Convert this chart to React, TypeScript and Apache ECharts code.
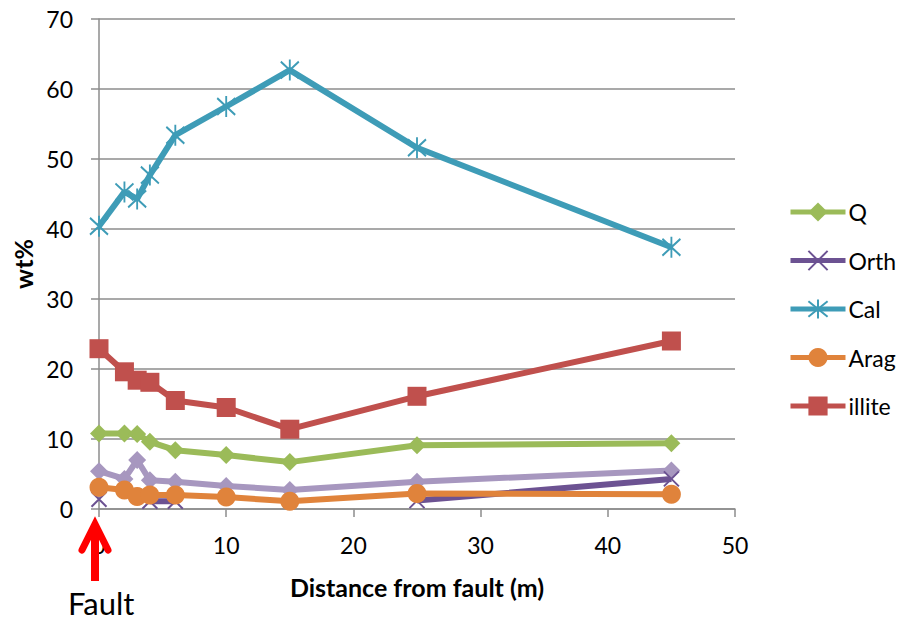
import React, { useEffect, useRef } from "react";
import * as echarts from "echarts";

// Distance from fault (m)
const distances = [0, 2, 3, 4, 6, 10, 15, 25, 45];

// wt% values
const qValues = [10.8, 10.8, 10.7, 9.6, 8.4, 7.7, 6.7, 9.1, 9.4];
const orthValues: (number | null)[] = [1.4, null, null, 1.1, 1.1, null, null, 1.2, 4.3];
const calValues = [40.4, 45.3, 44.3, 47.7, 53.4, 57.5, 62.7, 51.6, 37.4];
const aragValues = [3.1, 2.7, 1.8, 2.0, 2.0, 1.7, 1.1, 2.2, 2.1];
const illiteValues = [22.9, 19.6, 18.4, 18.1, 15.5, 14.5, 11.4, 16.1, 24.0];
// unlabelled (not in legend) lavender series
const otherValues = [5.4, 4.3, 7.0, 4.1, 3.9, 3.3, 2.7, 3.9, 5.5];

const legendNames = ["Q", "Orth", "Cal", "Arag", "illite"];

const FONT = "Lato, 'Noto Sans', sans-serif";

const X_SYMBOL = "path://M0,0L16,16M16,0L0,16";
const ASTERISK_SYMBOL = "path://M1,2L17,18M17,2L1,18M9,0L9,20";

function pairs(vals: (number | null)[]) {
  return distances.map((d, i) => [d, vals[i]]);
}

export default function App() {
  const ref = useRef<HTMLDivElement>(null);

  useEffect(() => {
    if (!ref.current) return;
    const chart = echarts.init(ref.current, undefined, { renderer: "svg" });

    const base = (name: string, color: string, vals: (number | null)[], symbol: string, size: number | number[], extra: any = {}) => ({
      name,
      type: "line",
      data: pairs(vals),
      symbol,
      symbolSize: size,
      showSymbol: true,
      connectNulls: false,
      lineStyle: { color, width: 6 },
      itemStyle: { color, borderColor: color, borderWidth: 0, opacity: 1 },
      emphasis: { disabled: true },
      ...extra,
    });

    chart.setOption({
      animation: false,
      textStyle: { fontFamily: FONT },
      grid: { left: 99, right: 164, top: 19, bottom: 108, containLabel: false },
      legend: {
        data: legendNames,
        orient: "vertical",
        left: 788,
        top: 200,
        padding: 0,
        itemWidth: 55,
        itemHeight: 24,
        itemGap: 24.5,
        lineStyle: { width: 5 },
        textStyle: { fontFamily: FONT, fontSize: 23, color: "#000", lineHeight: 24, padding: [0, 0, 0, -2] },
        selectedMode: false,
      },
      xAxis: {
        type: "value",
        min: 0,
        max: 50,
        interval: 10,
        name: "Distance from fault (m)",
        nameLocation: "middle",
        nameGap: 65,
        nameTextStyle: { fontFamily: FONT, fontSize: 25, fontWeight: "bold", color: "#000" },
        axisLine: { show: true, lineStyle: { color: "#8C8C8C", width: 1.5 } },
        axisTick: { show: true, inside: false, length: 8, lineStyle: { color: "#8C8C8C", width: 1.5 } },
        axisLabel: { fontFamily: FONT, fontSize: 23, color: "#000", margin: 24 },
        splitLine: { show: false },
      },
      yAxis: {
        type: "value",
        min: 0,
        max: 70,
        interval: 10,
        name: "wt%",
        nameLocation: "middle",
        nameGap: 64,
        nameRotate: 90,
        nameTextStyle: { fontFamily: FONT, fontSize: 25, fontWeight: "bold", color: "#000" },
        axisLine: { show: true, lineStyle: { color: "#8C8C8C", width: 1.5 } },
        axisTick: { show: true, inside: false, length: 8, lineStyle: { color: "#8C8C8C", width: 1.5 } },
        axisLabel: { fontFamily: FONT, fontSize: 23, color: "#000", margin: 26 },
        splitLine: { show: true, lineStyle: { color: "#8C8C8C", width: 1.5 } },
      },
      series: [
        base("other", "#A797BF", otherValues, "diamond", [18, 18]),
        base("Q", "#9BBB59", qValues, "diamond", [18, 18]),
        base("Orth", "#6C5292", orthValues, X_SYMBOL, [15, 15], {
          itemStyle: { color: "#6C5292", borderColor: "#6C5292", borderWidth: 2 },
        }),
        base("Cal", "#3E9CB7", calValues, ASTERISK_SYMBOL, [18, 21], {
          itemStyle: { color: "#3E9CB7", borderColor: "#3E9CB7", borderWidth: 2 },
        }),
        base("Arag", "#E0833B", aragValues, "circle", 19),
        base("illite", "#C0504D", illiteValues, "rect", 19),
      ],
      graphic: [
        {
          type: "line",
          z: 100,
          shape: { x1: 95, y1: 581, x2: 95, y2: 526 },
          style: { stroke: "#FF0000", lineWidth: 8, lineCap: "butt" },
        },
        {
          type: "polyline",
          z: 100,
          shape: { points: [[82, 550], [95, 524], [108, 550]] },
          style: { stroke: "#FF0000", fill: "none", lineWidth: 7, lineCap: "round", lineJoin: "miter" },
        },
        {
          type: "text",
          z: 100,
          x: 68,
          y: 603,
          style: { text: "Fault", fontFamily: FONT, fontSize: 31, fill: "#000", align: "left", verticalAlign: "middle" },
        },
      ],
    });

    return () => chart.dispose();
  }, []);

  return (
    <div
      ref={ref}
      style={{ position: "absolute", left: 0, top: 0, width: 899, height: 617, background: "#fff" }}
    />
  );
}
